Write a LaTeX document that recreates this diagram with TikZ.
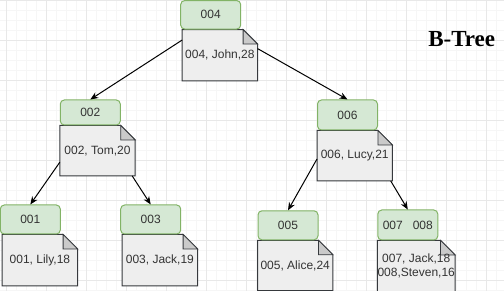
\documentclass[tikz,border=0pt]{standalone}
\usepackage{fontspec}
\setmainfont{Liberation Sans}
\newfontfamily\titlefont{Liberation Serif}
\usepackage{xcolor}
\usepackage{tikz}
\usetikzlibrary{positioning,arrows.meta,backgrounds}
\definecolor{keyfill}{HTML}{D5E8D4}
\definecolor{keyline}{HTML}{82B366}
\definecolor{docfill}{HTML}{EEEEEE}
\definecolor{docline}{HTML}{36393D}
\definecolor{txt}{HTML}{333333}
\definecolor{gridminor}{HTML}{F6F6F6}
\definecolor{gridmajor}{HTML}{E8E8E8}

\begin{document}
\begin{tikzpicture}[
x=1pt, y=-1pt,
key/.style={draw=keyline, fill=keyfill, rounded corners=4pt, line width=1pt, minimum width=60pt, minimum height=29pt, inner sep=0pt, font=\fontsize{12}{14}\selectfont, text=txt},
doc/.style={minimum width=75pt, minimum height=50pt, inner sep=0pt, align=center, font=\fontsize{12}{14.4}\selectfont, text=txt},
docshape/.style={fill=docfill, draw=docline, line width=1pt},
fold/.style={fill=docfill!85!black, draw=docline, line width=0.8pt},
arr/.style={-{Stealth[length=8pt,width=6.5pt]}, line width=1pt}
]
\useasboundingbox (0,0) rectangle (504,291);
% keys
\node[key, minimum height=28.5pt] (k004) at (210.7,14.8) {004};
\node[key, minimum height=25pt] (k002) at (90.3,112.5) {002};
\node[key, minimum height=30pt] (k006) at (347.5,115) {006};
\node[key] (k001) at (30.3,219.5) {001};
\node[key] (k003) at (150.7,219.5) {003};
\node[key] (k005) at (288,225.3) {005};
\node[key, minimum height=30pt] (k007) at (407.8,225) {007\hspace{10pt}008};
% records
\node[doc, minimum height=51pt, below right=0pt and 2pt of k004.south west] (d004) {004, John,28};
\node[doc, below right=0pt and 0pt of k002.south west] (d002) {002, Tom,20};
\node[doc, below right=0pt and 0pt of k006.south west] (d006) {006, Lucy,21};
\node[doc, minimum height=51pt, below right=0pt and 2.4pt of k001.south west] (d001) {001, Lily,18};
\node[doc, minimum height=51pt, below right=0pt and 2pt of k003.south west] (d003) {003, Jack,19};
\node[doc, below right=0pt and 0pt of k005.south west] (d005) {005, Alice,24};
\node[doc, minimum height=51pt, below right=0pt and 0pt of k007.south west] (d007) {007, Jack,18\\008,Steven,16};
\node[font={\titlefont\bfseries\fontsize{23}{27}\selectfont}, anchor=base] (title) at (461.7,46.7) {B-Tree};
% links
\draw[arr] (d004.158) -- (k002.north);
\draw[arr] (d004.10) -- (k006.north);
\draw[arr] (d002.197) -- (k001.north);
\draw[arr] (d002.-36) -- (k003.north);
\draw[arr] (d006.185) -- (k005.north);
\draw[arr] (d006.-35) -- (k007.north);
% grid and record outlines
\begin{scope}[on background layer]
  \clip (0,0) rectangle (504,291);
  \foreach \i in {0,...,50} \draw[gridminor, line width=1pt] (6.7+10*\i,0) -- (6.7+10*\i,291);
  \foreach \i in {0,...,29} \draw[gridminor, line width=1pt] (0,0.7+10*\i) -- (504,0.7+10*\i);
  \foreach \i in {0,...,12} \draw[gridmajor, line width=1pt] (6.7+40*\i,0) -- (6.7+40*\i,291);
  \foreach \i in {0,...,7} \draw[gridmajor, line width=1pt] (0,0.7+40*\i) -- (504,0.7+40*\i);
  \foreach \d in {d004,d002,d006,d001,d003,d005,d007}{
    \draw[docshape] (\d.north west) -- ([xshift=-14.5pt]\d.north east) -- ([yshift=-14.5pt]\d.north east) -- (\d.south east) -- (\d.south west) -- cycle;
    \draw[fold] ([xshift=-14.5pt]\d.north east) -- ([xshift=-14.5pt,yshift=-14.5pt]\d.north east) -- ([yshift=-14.5pt]\d.north east) -- cycle;
  }
\end{scope}
\end{tikzpicture}
\end{document}
